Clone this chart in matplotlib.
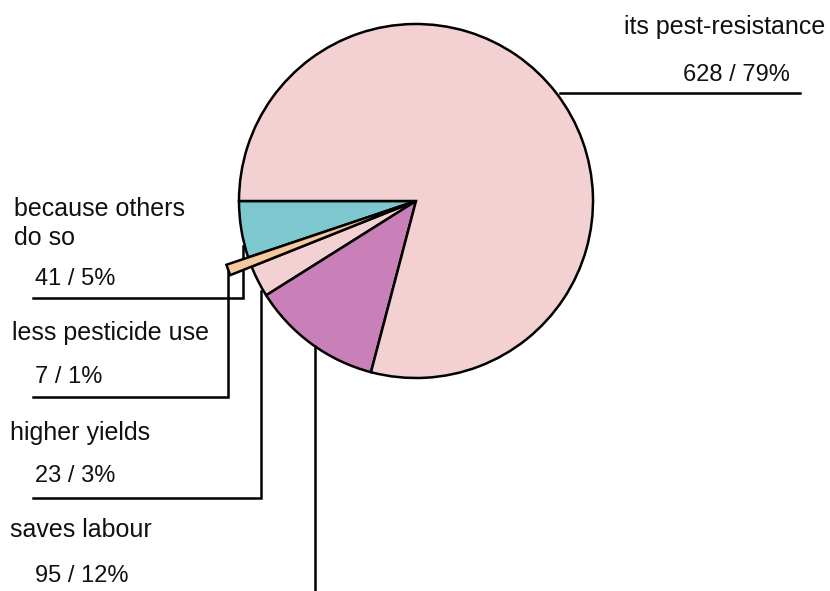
import matplotlib.pyplot as plt

plt.rcParams['font.family'] = ['Liberation Sans', 'DejaVu Sans']

# wedges go clockwise on screen starting from the left (9 o'clock)
reasons = ["because others\ndo so", "less pesticide use", "higher yields",
           "saves labour", "its pest-resistance"]
counts = [41, 7, 23, 95, 628]
colors = ["#7dc7cf", "#f5c89d", "#f3d1d2", "#c97fb7", "#f3d1d2"]

total = sum(counts)
values = ["{} / {}%".format(c, round(100 * c / total)) for c in counts]

W, H = 830, 591
fig = plt.figure(figsize=(W / 100, H / 100), dpi=100)
ax = fig.add_axes([0, 0, 1, 1])

wedges, _ = ax.pie(counts, colors=colors, center=(416, 201), radius=177,
                   startangle=180, counterclock=False, frame=True,
                   wedgeprops=dict(edgecolor="black", linewidth=1.8))
# the small slice sticks out of the circle
wedges[1].set_radius(200)
wedges[1].set_zorder(3)

ax.set_xlim(0, W)
ax.set_ylim(H, 0)
ax.set_aspect("equal")
ax.axis("off")

# label layout: (name xy, value xy, leader line points), pixel coords
layout = [
    ((14, 245), (35, 285), [(33, 298), (243, 298), (243, 246)]),
    ((12, 340), (35, 383), [(33, 397), (228, 397), (228, 272)]),
    ((10, 440), (35, 482), [(33, 498), (261, 498), (261, 291)]),
    ((10, 537), (35, 582), [(315, 600), (315, 346)]),
]
fs = 18
for i, (nxy, vxy, pts) in enumerate(layout):
    ax.text(nxy[0], nxy[1], reasons[i], fontsize=fs, va="baseline",
            ha="left", linespacing=1.25, color="#111111")
    ax.text(vxy[0], vxy[1], values[i], fontsize=fs - 1, va="baseline",
            ha="left", color="#111111")
    xs, ys = zip(*pts)
    ax.plot(xs, ys, color="black", lw=1.8, solid_joinstyle="miter",
            clip_on=False)

ax.text(825, 34, reasons[4], fontsize=fs, ha="right", va="baseline",
        color="#111111")
ax.text(790, 81, values[4], fontsize=fs - 1, ha="right", va="baseline",
        color="#111111")
ax.plot([560, 800], [93, 93], color="black", lw=1.8)

fig.savefig("out.png", dpi=100)
